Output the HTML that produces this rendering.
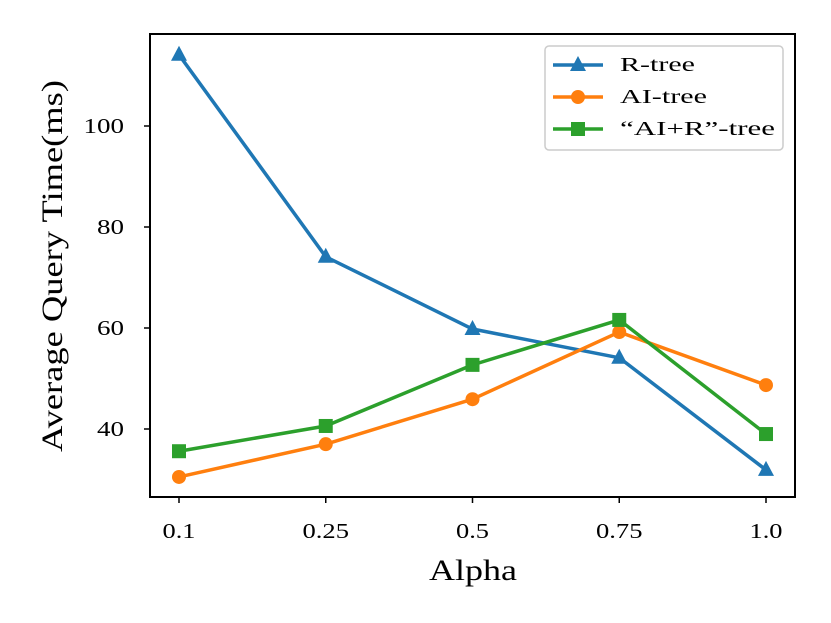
<!DOCTYPE html>
<html><head><meta charset="utf-8"><style>
html,body{margin:0;padding:0;background:#fff;}
svg{display:block;font-family:"Liberation Serif",serif;}
</style></head><body>
<svg id="chart" width="831" height="623" viewBox="0 0 831 623" xmlns="http://www.w3.org/2000/svg"></svg>
<script>
const categories = ["0.1","0.25","0.5","0.75","1.0"];
const rtree = [114.1, 74.1, 59.8, 54.1, 31.9];
const aitree = [30.5, 37.0, 45.9, 59.2, 48.7];
const airtree = [35.6, 40.6, 52.7, 61.6, 39.0];
const yTicks = [40, 60, 80, 100];
const seriesNames = ["R-tree","AI-tree","\u201cAI+R\u201d-tree"];

const NS="http://www.w3.org/2000/svg";
const svg=document.getElementById('chart');
const L=150,R=795,T=34,B=497;
const xS=i=>179+i*(766-179)/(categories.length-1);
const yS=v=>429-(v-40)*(101/20);
function mk(tag,attrs,parent){const e=document.createElementNS(NS,tag);for(const k in attrs)e.setAttribute(k,attrs[k]);(parent||svg).appendChild(e);return e;}
function labW(s){let w=0;for(const ch of s)w+=(ch==='.')?6:13.5;return w;}

const frame=mk('rect',{x:L,y:T,width:R-L,height:B-T,fill:'none',stroke:'#000','stroke-width':2});



categories.forEach((c,i)=>{
  const t=mk('line',{x1:xS(i),x2:xS(i),y1:B,y2:B+6,stroke:'#000','stroke-width':1.5});
  
  
  const tx=mk('text',{x:xS(i),y:538,'text-anchor':'middle','font-size':21,textLength:labW(c),lengthAdjust:'spacingAndGlyphs'});
  tx.textContent=c;
  
  
});
yTicks.forEach(v=>{
  const t=mk('line',{x1:L-6,x2:L,y1:yS(v),y2:yS(v),stroke:'#000','stroke-width':1.5});
  
  
  const s=String(v);
  const tx=mk('text',{x:124-labW(s),y:yS(v)+7,'font-size':21,textLength:labW(s),lengthAdjust:'spacingAndGlyphs'});
  tx.textContent=s;
  
  
});
const xl=mk('text',{x:473,y:580,'text-anchor':'middle','font-size':30,textLength:88,lengthAdjust:'spacingAndGlyphs'});
xl.textContent='Alpha';


const yl=mk('text',{x:0,y:0,'text-anchor':'middle','font-size':30,textLength:372,lengthAdjust:'spacingAndGlyphs',transform:'translate(62,266) rotate(-90)'});
yl.textContent='Average Query Time(ms)';



function marker(kind,x,y,color,g){
  if(kind==='tri') return mk('polygon',{points:`${x},${y-9} ${x-8},${y+6} ${x+8},${y+6}`,fill:color},g);
  if(kind==='circ') return mk('circle',{cx:x,cy:y,r:7,fill:color},g);
  return mk('rect',{x:x-7,y:y-7,width:14,height:14,fill:color},g);
}
const series=[[rtree,'#1f77b4','tri'],[aitree,'#ff7f0e','circ'],[airtree,'#2ca02c','sq']];
series.forEach(([vals,color,kind],si)=>{
  const g=mk('g',{});
  
  
  const pl=mk('polyline',{points:vals.map((v,i)=>xS(i)+','+yS(v)).join(' '),fill:'none',stroke:color,'stroke-width':3.5,'stroke-linejoin':'round'},g);
  
  
  vals.forEach((v,i)=>{
    const m=marker(kind,xS(i),yS(v),color,g);
    
    
  });
});

const lg=mk('g',{});


mk('rect',{x:545,y:46,width:238,height:104,rx:4,fill:'#fff','fill-opacity':0.8,stroke:'#ccc','stroke-width':1.5},lg);
const legendWidths=[75,87,155];
series.forEach(([vals,color,kind],si)=>{
  const y=65+si*32;
  const e=mk('g',{},lg);
  
  
  mk('line',{x1:553,x2:603,y1:y,y2:y,stroke:color,'stroke-width':3.5},e);
  marker(kind,578,y,color,e);
  const t=mk('text',{x:620,y:y+6,'font-size':20,textLength:legendWidths[si],lengthAdjust:'spacingAndGlyphs'},e);
  t.textContent=seriesNames[si];
});
</script>
</body></html>
